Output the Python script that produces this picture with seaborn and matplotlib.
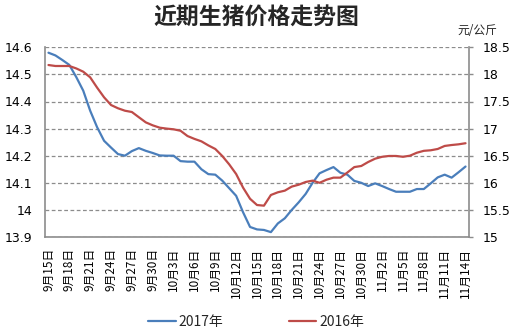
import matplotlib
matplotlib.use("Agg")
import matplotlib.pyplot as plt
import seaborn as sns
import pandas as pd
import numpy as np

# ---- data ----
months = [9] * 16 + [10] * 31 + [11] * 14
days = list(range(15, 31)) + list(range(1, 32)) + list(range(1, 15))
dates = [f"{m}月{d}日" for m, d in zip(months, days)]

price_2017 = [14.580, 14.570, 14.553, 14.535, 14.490, 14.440, 14.366, 14.305, 14.255, 14.230,
              14.206, 14.200, 14.217, 14.228, 14.218, 14.210, 14.201, 14.200, 14.200, 14.180,
              14.178, 14.178, 14.150, 14.132, 14.130, 14.108, 14.080, 14.052, 13.991, 13.937,
              13.928, 13.926, 13.918, 13.950, 13.969, 14.000, 14.028, 14.059, 14.100, 14.135,
              14.147, 14.158, 14.137, 14.130, 14.107, 14.100, 14.088, 14.098, 14.088, 14.077,
              14.067, 14.067, 14.067, 14.077, 14.077, 14.098, 14.120, 14.130, 14.119, 14.139,
              14.160]
price_2016 = [18.173, 18.155, 18.155, 18.155, 18.110, 18.050, 17.946, 17.755, 17.577, 17.435,
              17.375, 17.330, 17.306, 17.210, 17.115, 17.060, 17.017, 17.000, 16.987, 16.960,
              16.863, 16.810, 16.765, 16.690, 16.624, 16.495, 16.340, 16.162, 15.910, 15.705,
              15.590, 15.578, 15.775, 15.825, 15.855, 15.930, 15.965, 16.015, 16.040, 16.000,
              16.057, 16.095, 16.095, 16.190, 16.290, 16.310, 16.384, 16.445, 16.480, 16.495,
              16.495, 16.480, 16.500, 16.555, 16.590, 16.600, 16.624, 16.680, 16.697, 16.710,
              16.730]
left_ticks = [13.9, 14.0, 14.1, 14.2, 14.3, 14.4, 14.5, 14.6]
left_labels = ["13.9", "14", "14.1", "14.2", "14.3", "14.4", "14.5", "14.6"]
right_ticks = [15, 15.5, 16, 16.5, 17, 17.5, 18, 18.5]
right_labels = ["15", "15.5", "16", "16.5", "17", "17.5", "18", "18.5"]

title = "近期生猪价格走势图"
unit = "元/公斤"
series_names = ["2017年", "2016年"]

# ---- style ----
sns.set_theme(style="white")
plt.rcParams["font.family"] = ["Noto Sans CJK SC", "DejaVu Sans"]
plt.rcParams["axes.unicode_minus"] = False

blue = "#4A7EBB"
red = "#BE4B48"
grid_c = "#8C8C8C"
spine_c = "#8C8C8C"

df = pd.DataFrame({"idx": np.arange(len(dates)), "p17": price_2017, "p16": price_2016})

fig = plt.figure(figsize=(5.12, 3.35), dpi=100)
ax = fig.add_axes([45 / 512, 1 - 237 / 335, (469 - 45) / 512, (237 - 47.3) / 335])
ax2 = ax.twinx()

sns.lineplot(data=df, x="idx", y="p17", ax=ax, color=blue, linewidth=1.6, label=series_names[0], legend=False)
sns.lineplot(data=df, x="idx", y="p16", ax=ax2, color=red, linewidth=1.6, label=series_names[1], legend=False)

ax.set_xlim(-0.5, len(dates) - 0.5)
ax.set_ylim(13.9, 14.6)
ax2.set_ylim(15, 18.5)

ax.set_yticks(left_ticks)
ax.set_yticklabels(left_labels, fontsize=9, family="DejaVu Sans")
ax2.set_yticks(right_ticks)
ax2.set_yticklabels(right_labels, fontsize=9, family="DejaVu Sans")

tick_idx = list(range(0, len(dates), 3))
ax.set_xticks(tick_idx)
ax.set_xticklabels([dates[i] for i in tick_idx], rotation=90, fontsize=8.5)

ax.set_xlabel("")
ax.set_ylabel("")
ax2.set_ylabel("")

ax.grid(axis="y", color=grid_c, linestyle=(0, (3, 2)), linewidth=0.9)
ax.set_axisbelow(True)

for a in (ax, ax2):
    for s in a.spines.values():
        s.set_visible(False)
ax.spines["left"].set_visible(True)
ax.spines["left"].set_color(spine_c)
ax.spines["bottom"].set_visible(True)
ax.spines["bottom"].set_color(spine_c)
ax2.spines["right"].set_visible(True)
ax2.spines["right"].set_color(spine_c)
for s in ("left", "bottom"):
    ax.spines[s].set_linewidth(1.2)
ax2.spines["right"].set_linewidth(1.2)

ax.tick_params(axis="y", length=0, pad=9, colors="black")
ax.tick_params(axis="x", length=0, pad=8, colors="black")
ax2.tick_params(axis="y", length=3, width=1, color=spine_c, pad=7, labelcolor="black")

fig.text(0.5, 1 - 18 / 335, title, ha="center", va="center", fontsize=16.5, fontweight="bold")
fig.text(477 / 512, 1 - 30 / 335, unit, ha="center", va="center", fontsize=8.5)

handles = ax.get_lines()[:1] + ax2.get_lines()[:1]
fig.legend(handles, series_names, loc="center", bbox_to_anchor=(0.5, 1 - 322 / 335), ncol=2,
           frameon=False, fontsize=10, handlelength=2.0, handletextpad=0.2, columnspacing=4.7)

fig.savefig("out.png", dpi=100)
